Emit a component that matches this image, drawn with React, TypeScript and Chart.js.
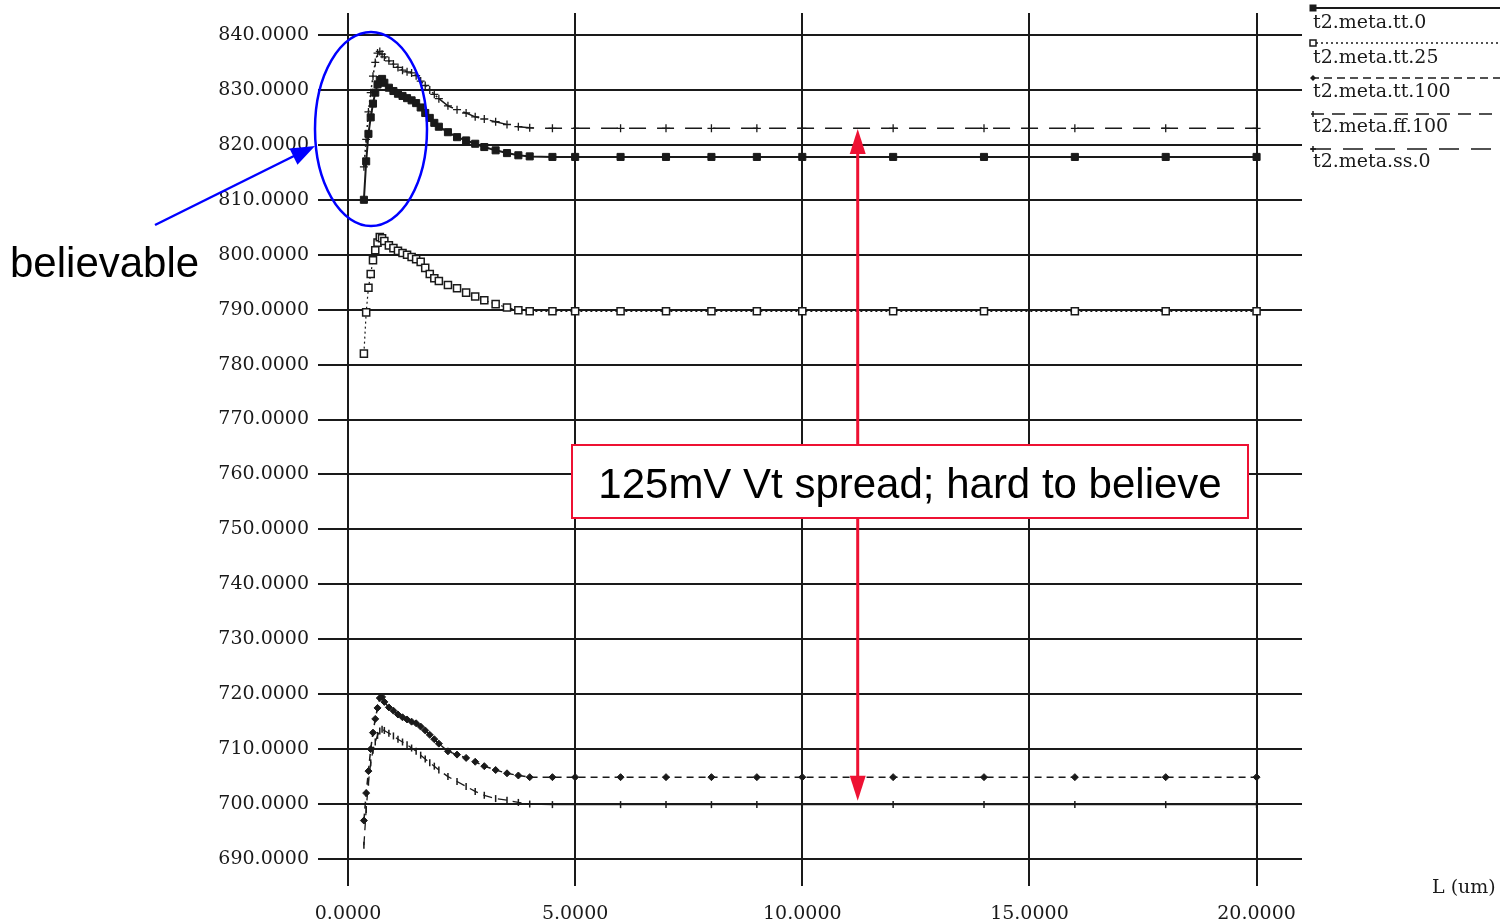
import React, { useEffect, useRef } from 'react';
import { Chart, registerables } from 'chart.js';

Chart.register(...registerables);

// Channel length L (um) sampled by the simulator
const lengths = [
  0.35, 0.4, 0.45, 0.5, 0.55, 0.6, 0.65, 0.7, 0.75, 0.8,
  0.9, 1.0, 1.1, 1.2, 1.3, 1.4, 1.5, 1.6, 1.7, 1.8, 1.9, 2.0,
  2.2, 2.4, 2.6, 2.8, 3.0,
  3.25, 3.5, 3.75, 4.0,
  4.5, 5, 6, 7, 8, 9, 10,
  12, 14, 16, 18, 20,
];

// Vt (mV) per corner
const ttZero = [
  810, 817, 822, 825, 827.5, 829.5, 831, 831.8, 832, 831.3,
  830.4, 829.8, 829.3, 828.9, 828.5, 828.1, 827.6, 826.8, 825.8, 824.9, 824.0, 823.3,
  822.3, 821.4, 820.8, 820.2, 819.6,
  819.0, 818.5, 818.1, 817.9,
  817.8, 817.8, 817.8, 817.8, 817.8, 817.8, 817.8,
  817.8, 817.8, 817.8, 817.8, 817.8,
];
const ttTwentyFive = [
  782, 789.5, 794, 796.5, 799, 800.8, 802.2, 803.2, 803.0, 802.5,
  801.7, 801.2, 800.7, 800.3, 800.0, 799.6, 799.2, 798.7, 797.6, 796.5, 795.7, 795.2,
  794.5, 793.9, 793.1, 792.4, 791.7,
  791.0, 790.4, 789.9, 789.7,
  789.7, 789.7, 789.7, 789.7, 789.7, 789.7, 789.7,
  789.7, 789.7, 789.7, 789.7, 789.7,
];
const ttHundred = [
  697, 702, 706, 710, 713, 715.5, 717.5, 719.3, 719.5, 718.6,
  717.6, 717.0, 716.3, 715.8, 715.4, 715.0, 714.7, 714.1, 713.4, 712.6, 711.8, 711.0,
  709.6, 709.0, 708.4, 707.7, 706.9,
  706.2, 705.6, 705.2, 704.9,
  704.9, 704.9, 704.9, 704.9, 704.9, 704.9, 704.9,
  704.9, 704.9, 704.9, 704.9, 704.9,
];
const ffHundred = [
  692.5, 699, 704, 707.5, 709.8, 711.3, 712.5, 713.3, 713.6, 713.4,
  712.9, 712.4, 711.8, 711.3, 710.8, 710.2, 709.6, 708.9, 708.2, 707.5, 706.9, 706.2,
  705.0, 704.1, 703.2, 702.3, 701.6,
  701.0, 700.7, 700.3, 700.0,
  699.9, 699.9, 699.9, 699.9, 699.9, 699.9, 699.9,
  699.9, 699.9, 699.9, 699.9, 699.9,
];
const ssZero = [
  816, 821, 826, 829.5, 832.5, 835, 836.7, 837, 836.5, 836,
  835.3, 834.7, 834.1, 833.6, 833.3, 833.1, 832.6, 831.6, 830.8, 830.0, 829.2, 828.4,
  827.1, 826.4, 825.8, 825.1, 824.7,
  824.2, 823.7, 823.3, 823.1,
  823.0, 823.0, 823.0, 823.0, 823.0, 823.0, 823.0,
  823.0, 823.0, 823.0, 823.0, 823.0,
];

const seriesNames = ['t2.meta.tt.0', 't2.meta.tt.25', 't2.meta.tt.100', 't2.meta.ff.100', 't2.meta.ss.0'];
const xTickValues = [0, 5, 10, 15, 20];
const yTickValues = [690, 700, 710, 720, 730, 740, 750, 760, 770, 780, 790, 800, 810, 820, 830, 840];
const xAxisTitle = 'L (um)';
const leftNote = 'believable';
const boxNote = '125mV Vt spread; hard to believe';
// spread arrow goes from the ss.0 plateau down to the ff.100 plateau
const spreadAt = 11.22;
const spreadTop = 822.9;
const spreadBottom = 700.6;

const SERIF = '"DejaVu Serif", serif';
const SANS = '"Liberation Sans", Arial, sans-serif';
const INK = '#1a1a1a';

const toPts = (ys: number[]) => ys.map((y, i) => ({ x: lengths[i], y }));

function drawArrowHead(ctx: CanvasRenderingContext2D, tx: number, ty: number, fx: number, fy: number, len: number, half: number) {
  const dx = tx - fx, dy = ty - fy;
  const d = Math.hypot(dx, dy);
  const ux = dx / d, uy = dy / d;
  const bx = tx - ux * len, by = ty - uy * len;
  ctx.beginPath();
  ctx.moveTo(tx, ty);
  ctx.lineTo(bx - uy * half, by + ux * half);
  ctx.lineTo(bx + uy * half, by - ux * half);
  ctx.closePath();
  ctx.fill();
}

const overlay = {
  id: 'overlay',
  afterDraw(chart: any) {
    const ctx: CanvasRenderingContext2D = chart.ctx;
    const xs = chart.scales.x;
    const ys = chart.scales.y;
    ctx.save();

    // legend at right
    const lineYs = [8, 43, 78, 114, 149];
    const textYs = [28, 63, 97, 132, 167];
    const dashes = [[], [2, 3], [8, 5], [13, 8], [20, 12]];
    const widths = [2, 1.5, 1.5, 1.5, 1.5];
    seriesNames.forEach((name, i) => {
      ctx.strokeStyle = INK;
      ctx.lineWidth = widths[i];
      ctx.setLineDash(dashes[i]);
      ctx.beginPath();
      ctx.moveTo(1311, lineYs[i]);
      ctx.lineTo(1500, lineYs[i]);
      ctx.stroke();
      ctx.setLineDash([]);
      ctx.fillStyle = INK;
      ctx.lineWidth = 1.5;
      const mx = 1313, my = lineYs[i];
      if (i === 0) ctx.fillRect(mx - 3.5, my - 3.5, 7, 7);
      if (i === 1) { ctx.fillStyle = '#fff'; ctx.fillRect(mx - 3, my - 3, 6, 6); ctx.strokeRect(mx - 3, my - 3, 6, 6); }
      if (i === 2) { ctx.beginPath(); ctx.moveTo(mx, my - 3); ctx.lineTo(mx + 3, my); ctx.lineTo(mx, my + 3); ctx.lineTo(mx - 3, my); ctx.closePath(); ctx.fill(); }
      if (i === 3) { ctx.beginPath(); ctx.moveTo(mx, my - 3); ctx.lineTo(mx, my + 3); ctx.stroke(); }
      if (i === 4) { ctx.beginPath(); ctx.moveTo(mx - 3, my); ctx.lineTo(mx + 3, my); ctx.moveTo(mx, my - 3); ctx.lineTo(mx, my + 3); ctx.stroke(); }
      ctx.fillStyle = INK;
      ctx.font = `19px ${SERIF}`;
      ctx.textAlign = 'left';
      ctx.textBaseline = 'alphabetic';
      ctx.fillText(name, 1313, textYs[i]);
    });

    // axis title
    ctx.font = `19px ${SERIF}`;
    ctx.fillText(xAxisTitle, 1432, 893);

    // red double arrow (spread)
    const ax = xs.getPixelForValue(spreadAt);
    const aTop = ys.getPixelForValue(spreadTop);
    const aBot = ys.getPixelForValue(spreadBottom);
    ctx.strokeStyle = '#ee1133';
    ctx.fillStyle = '#ee1133';
    ctx.lineWidth = 3;
    ctx.beginPath();
    ctx.moveTo(ax, aTop + 20);
    ctx.lineTo(ax, aBot - 20);
    ctx.stroke();
    drawArrowHead(ctx, ax, aTop, ax, aTop + 30, 25, 8);
    drawArrowHead(ctx, ax, aBot, ax, aBot - 30, 25, 8);

    // red box with note
    ctx.fillStyle = '#fff';
    ctx.fillRect(572, 445, 676, 73);
    ctx.lineWidth = 2;
    ctx.strokeRect(572, 445, 676, 73);
    ctx.fillStyle = '#000';
    ctx.font = `42px ${SANS}`;
    ctx.textAlign = 'center';
    ctx.fillText(boxNote, 910, 498);

    // blue ellipse + arrow
    ctx.strokeStyle = '#0000ff';
    ctx.fillStyle = '#0000ff';
    ctx.lineWidth = 2.5;
    ctx.beginPath();
    ctx.ellipse(371, 129, 56, 97, 0, 0, Math.PI * 2);
    ctx.stroke();
    ctx.beginPath();
    ctx.moveTo(155, 225);
    ctx.lineTo(298, 154);
    ctx.stroke();
    drawArrowHead(ctx, 315, 146, 155, 225, 24, 9);

    ctx.fillStyle = '#000';
    ctx.textAlign = 'left';
    ctx.font = `42px ${SANS}`;
    ctx.fillText(leftNote, 10, 277);

    ctx.restore();
  },
};

export default function App() {
  const ref = useRef<HTMLCanvasElement | null>(null);

  useEffect(() => {
    if (!ref.current) return;
    Chart.defaults.font.family = SERIF;
    const chart = new Chart(ref.current, {
      type: 'line',
      data: {
        datasets: [
          {
            label: seriesNames[0],
            data: toPts(ttZero),
            borderColor: INK,
            borderWidth: 2,
            pointStyle: 'rect',
            pointRadius: 5,
            pointBackgroundColor: INK,
            pointBorderColor: INK,
            pointBorderWidth: 1,
          },
          {
            label: seriesNames[1],
            data: toPts(ttTwentyFive),
            borderColor: INK,
            borderWidth: 1.2,
            borderDash: [2, 3],
            pointStyle: 'rect',
            pointRadius: 5,
            pointBackgroundColor: '#fff',
            pointBorderColor: INK,
            pointBorderWidth: 1.5,
          },
          {
            label: seriesNames[2],
            data: toPts(ttHundred),
            borderColor: INK,
            borderWidth: 1.5,
            borderDash: [7, 5],
            pointStyle: 'rectRot',
            pointRadius: 3.5,
            pointBackgroundColor: INK,
            pointBorderColor: INK,
            pointBorderWidth: 1,
          },
          {
            label: seriesNames[3],
            data: toPts(ffHundred),
            borderColor: INK,
            borderWidth: 1.3,
            segment: {
              borderDash: (c: any) => (c.p0.parsed.x < 4 ? [9, 6] : []),
            },
            pointStyle: 'line',
            pointRotation: 90,
            pointRadius: 3.5,
            pointBorderColor: INK,
            pointBorderWidth: 1.5,
          },
          {
            label: seriesNames[4],
            data: toPts(ssZero),
            borderColor: INK,
            borderWidth: 1.5,
            segment: {
              borderDash: (c: any) => (c.p0.parsed.x < 2 ? [2, 3] : [17, 11]),
            },
            pointStyle: 'cross',
            pointRadius: 4,
            pointBorderColor: INK,
            pointBorderWidth: 1.3,
          },
        ],
      },
      options: {
        animation: false,
        responsive: false,
        devicePixelRatio: 1,
        parsing: false as any,
        layout: { padding: { top: 13, right: 198, left: 0, bottom: 0 } },
        plugins: { legend: { display: false }, tooltip: { enabled: false } },
        elements: { line: { tension: 0, fill: false } },
        scales: {
          x: {
            type: 'linear',
            min: 0,
            max: 21,
            afterBuildTicks: (s: any) => { s.ticks = xTickValues.map((v) => ({ value: v })); },
            afterFit: (s: any) => { s.height = 65; s.paddingLeft = 0; s.paddingRight = 0; },
            border: { display: false },
            grid: { color: INK, lineWidth: 2, tickLength: 27, tickColor: INK },
            ticks: {
              color: INK,
              font: { family: SERIF, size: 19 },
              padding: 17,
              maxRotation: 0,
              autoSkip: false,
              callback: (v: any) => Number(v).toFixed(4),
            },
          },
          y: {
            type: 'linear',
            min: 690,
            max: 844,
            afterBuildTicks: (s: any) => { s.ticks = yTickValues.map((v) => ({ value: v })); },
            afterFit: (s: any) => { s.width = 348; s.paddingTop = 0; s.paddingBottom = 0; },
            border: { display: false },
            grid: { color: INK, lineWidth: 2, tickLength: 30, tickColor: INK },
            ticks: {
              color: INK,
              font: { family: SERIF, size: 19 },
              padding: 9,
              autoSkip: false,
              callback: (v: any) => Number(v).toFixed(4),
            },
          },
        },
      },
      plugins: [overlay],
    });
    return () => chart.destroy();
  }, []);

  return (
    <div style={{ position: 'absolute', left: 0, top: 0, width: 1500, height: 924, background: '#fff' }}>
      <canvas ref={ref} width={1500} height={924} style={{ width: 1500, height: 924, display: 'block' }} />
    </div>
  );
}
